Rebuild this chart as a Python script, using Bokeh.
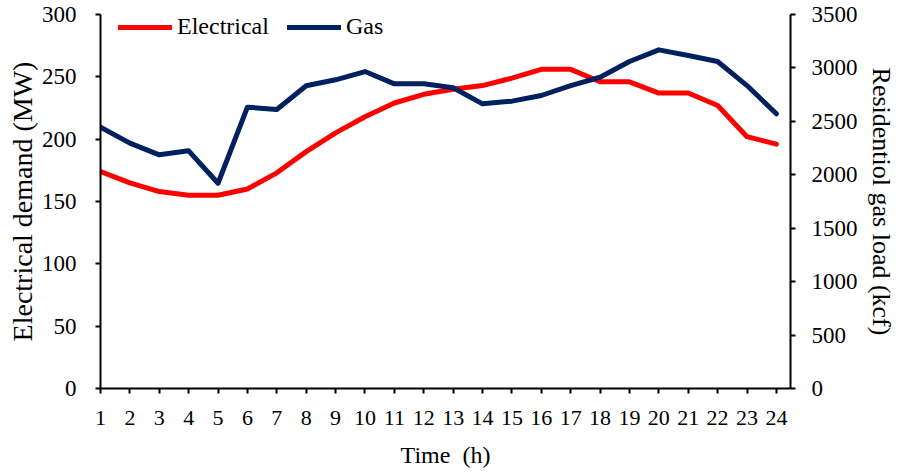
from bokeh.plotting import figure
from bokeh.models import Range1d, LinearAxis, FixedTicker
from bokeh.embed import file_html
from bokeh.resources import INLINE

hours = [1, 2, 3, 4, 5, 6, 7, 8, 9, 10, 11, 12, 13, 14, 15, 16, 17, 18, 19, 20, 21, 22, 23, 24]
electrical = [174, 165, 158, 155, 155, 160, 173, 190, 205, 218, 229, 236,
              240, 243, 249, 256, 256, 246, 246, 237, 237, 227, 202, 196]
gas = [2445, 2296, 2187, 2224, 1921, 2633, 2611, 2833, 2889, 2966, 2851, 2851,
       2814, 2664, 2689, 2742, 2835, 2913, 3060, 3169, 3116, 3060, 2835, 2571]
left_ticks = [0, 50, 100, 150, 200, 250, 300]
right_ticks = [0, 500, 1000, 1500, 2000, 2500, 3000, 3500]

FONT = "Liberation Serif"

p = figure(width=898, height=472, output_backend="svg", toolbar_location=None,
           x_range=Range1d(1, 24.48), y_range=Range1d(0, 300),
           min_border_left=100, min_border_right=108, min_border_top=14, min_border_bottom=84)
p.outline_line_color = None
p.xgrid.visible = False
p.ygrid.visible = False
p.extra_y_ranges = {"gas": Range1d(0, 3500)}

p.line(hours, electrical, line_color="#FF0000", line_width=5, line_join="round",
       line_cap="round", legend_label="Electrical")
p.line(hours, gas, line_color="#002060", line_width=5, line_join="round",
       line_cap="round", legend_label="Gas", y_range_name="gas")

right = LinearAxis(y_range_name="gas", ticker=FixedTicker(ticks=right_ticks),
                   axis_label="Residentiol gas load (kcf)")
p.add_layout(right, "right")

p.xaxis.ticker = FixedTicker(ticks=hours)
p.yaxis[0].ticker = FixedTicker(ticks=left_ticks)
p.xaxis.axis_label = "Time\u00a0 (h)"
p.yaxis[0].axis_label = "Electrical demand (MW)"

for ax in p.xaxis + p.yaxis:
    ax.axis_line_color = "black"
    ax.axis_line_width = 2
    ax.major_tick_line_color = "black"
    ax.major_tick_line_width = 2
    ax.major_tick_in = 0
    ax.major_tick_out = 5
    ax.minor_tick_line_color = None
    ax.major_label_text_font = FONT
    ax.major_label_text_color = "black"
    ax.axis_label_text_font = FONT
    ax.axis_label_text_font_style = "normal"
    ax.axis_label_text_color = "black"

p.xaxis.major_label_text_font_size = "22px"
p.xaxis.major_label_standoff = 17
p.xaxis.axis_label_text_font_size = "24px"
p.xaxis.axis_label_standoff = 14

p.yaxis[0].major_label_text_font_size = "23px"
p.yaxis[0].major_label_standoff = 19
p.yaxis[0].axis_label_text_font_size = "28px"
p.yaxis[0].axis_label_standoff = 1

right.major_label_text_font_size = "23px"
right.major_label_standoff = 16
right.axis_label_text_font_size = "26px"
right.axis_label_standoff = 6

leg = p.legend[0]
leg.orientation = "horizontal"
leg.location = (18, 348)
leg.margin = 0
leg.padding = 0
leg.spacing = 18
leg.glyph_width = 54
leg.glyph_height = 26
leg.label_height = 26
leg.label_standoff = 5
leg.label_text_font = FONT
leg.label_text_font_size = "24px"
leg.label_text_color = "black"
leg.background_fill_alpha = 0
leg.border_line_color = None

open("out.html", "w").write(file_html(p, INLINE))
